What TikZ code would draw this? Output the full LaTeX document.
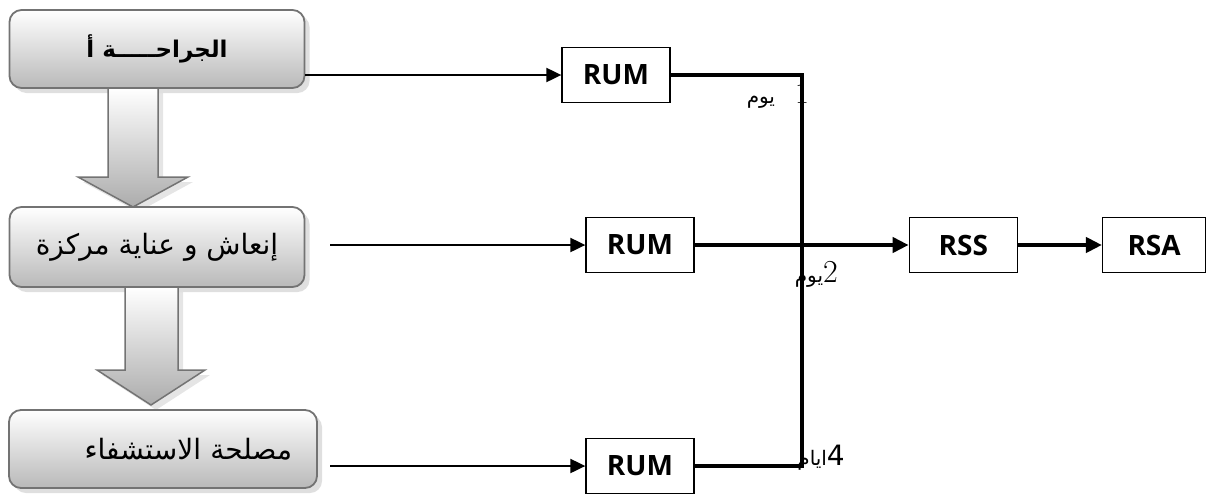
\documentclass[tikz,border=0pt]{standalone}
\usepackage{fontspec}
\usetikzlibrary{positioning}
\usetikzlibrary{arrows.meta}
\usetikzlibrary{shadows}
\newfontfamily\arabicfont[Script=Arabic]{DejaVu Sans}
\newfontfamily\latinfont{Open Sans}
\TeXXeTstate=1
\tikzset{
    service/.style={
        draw=black!55,
        line width=1.8pt,
        rounded corners=12pt,
        top color=white,
        bottom color=gray!55,
        drop shadow={shadow xshift=5pt, shadow yshift=-5pt, fill=black!25},
        minimum width=295pt,
        minimum height=78pt,
        font=\arabicfont\fontsize{28}{32}\selectfont
    },
    bigarrow/.style={
        draw=black!55,
        line width=1.5pt,
        top color=white,
        bottom color=gray!65,
        drop shadow={shadow xshift=5pt, shadow yshift=-5pt, fill=black!20}
    },
    summary/.style={
        draw,
        line width=1.3pt,
        minimum width=108pt,
        minimum height=55pt,
        font=\latinfont\bfseries\fontsize{28}{30}\selectfont
    },
    feed/.style={
        -{Triangle[length=15pt,width=14pt]},
        line width=2pt
    },
    merge/.style={
        line width=4pt
    },
    daylabel/.style={
        inner sep=0pt,
        font=\arabicfont\fontsize{20}{22}\selectfont
    }
}
\begin{document}
\begin{tikzpicture}[x=1pt, y=-1pt]
                \useasboundingbox (0,0) rectangle (1209,496);

                \node[service] (chir) at (157,49) {\bfseries\fontsize{23}{26}\selectfont\beginR الجراحـــــة أ\endR};
                \draw[bigarrow] (108,88) -- (108,177) -- (78,177) -- (133,207) -- (188,177) -- (158,177) -- (158,88) -- cycle;
                \node[service, minimum height=80pt] (rea) at (157,247) {\beginR إنعاش و عناية مركزة\endR};
                \draw[bigarrow] (125,287) -- (125,370) -- (97,370) -- (151,405) -- (205,370) -- (178,370) -- (178,287) -- cycle;
                \node[service, minimum width=308pt, text width=258pt, inner xsep=25pt, align=right] (hosp) at (163,449) {\beginR مصلحة الاستشفاء\endR};

                \node[summary] (rumA) at (616,75) {RUM};
                \node[summary] (rumB) at (640,245) {RUM};
                \node[summary] (rumC) at (640,466) {RUM};
                \node[summary, right=214pt of rumB] (rss) {RSS};
                \node[summary, right=84pt of rss, minimum width=103pt] (rsa) {RSA};

                \coordinate (s2) at (330,245);
                \coordinate (s3) at (330,466);
                \coordinate (j1) at (802,75);
                \coordinate (j3) at (802,466);

                \draw[feed] (chir.east |- rumA) -- (rumA);
                \draw[feed] (s2) -- (rumB);
                \draw[feed] (s3) -- (rumC);
                \draw[merge] (rumA) -- (j1) -- (j3) -- (rumC);
                \draw[merge, -{Triangle[length=16pt,width=15pt]}] (rumB) -- (rss);
                \draw[merge, -{Triangle[length=16pt,width=15pt]}] (rss) -- (rsa);

                \node[daylabel, anchor=base east] (d1) at (809,103) {\beginR{\rmfamily\fontsize{30}{30}\selectfont 1}\quad يوم\endR};
                \node[daylabel, anchor=base east] (d2) at (838,282) {\beginR{\rmfamily\fontsize{32}{32}\selectfont 2}يوم\endR};
                \node[daylabel, anchor=base east] (d3) at (845,465) {\beginR{\fontsize{28}{28}\selectfont 4}ايام\endR};
            \end{tikzpicture}
\end{document}
